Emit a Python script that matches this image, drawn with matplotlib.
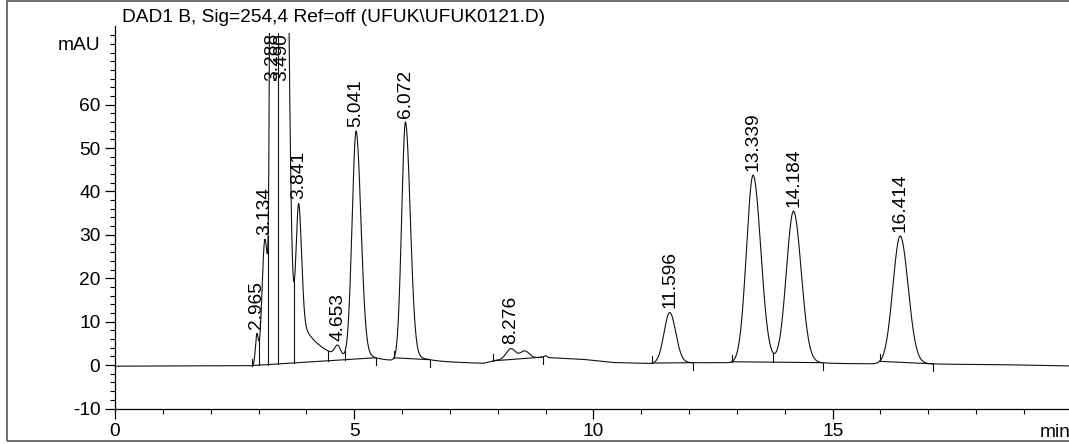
import numpy as np
import matplotlib
matplotlib.use("Agg")
import matplotlib.pyplot as plt
from matplotlib.patches import Rectangle
from matplotlib.ticker import MultipleLocator, FixedLocator

plt.rcParams['font.family'] = ['Liberation Sans', 'DejaVu Sans']
plt.rcParams['axes.unicode_minus'] = False
FS = 13.8

title = "DAD1 B, Sig=254,4 Ref=off (UFUK\\UFUK0121.D)"

# Peak table: retention time (min), height (mAU), left/right widths, tailing
peak_rt     = [2.965, 3.134, 3.288, 3.490, 3.841, 4.653, 5.041, 6.072, 8.276, 8.560, 9.000, 11.596, 13.339, 14.184, 16.414]
peak_height = [6.8, 29.0, 350.0, 231.0, 36.5, 2.3, 52.5, 55.0, 2.5, 1.8, 0.4, 11.7, 43.3, 35.0, 29.5]
peak_sig_l  = [0.030, 0.060, 0.033, 0.060, 0.060, 0.060, 0.085, 0.080, 0.100, 0.095, 0.030, 0.120, 0.140, 0.150, 0.155]
peak_sig_r  = [0.030, 0.075, 0.050, 0.100, 0.060, 0.060, 0.100, 0.100, 0.095, 0.095, 0.030, 0.125, 0.160, 0.160, 0.165]
peak_tail   = [0.0, 0.0, 0.0, 0.0, 0.30, 0.0, 0.08, 0.06, 0.0, 0.0, 0.0, 0.04, 0.05, 0.05, 0.04]
peak_tau    = [0.1, 0.1, 0.1, 0.1, 0.45, 0.1, 0.20, 0.20, 0.1, 0.1, 0.1, 0.25, 0.25, 0.25, 0.25]

# Retention times printed above peaks
label_rt = ["2.965", "3.134", "3.288", "3.490", "3.841", "4.653", "5.041", "6.072",
            "8.276", "11.596", "13.339", "14.184", "16.414"]
offscale_labels = ["3.288", "3.490"]

# Detector baseline drift
base_t = [0.0, 2.8, 3.5, 5.5, 6.5, 7.0, 7.7, 7.95, 8.5, 8.9, 9.3, 9.8, 10.4, 11.2, 12.5, 15.0, 17.2, 18.5, 20.0]
base_v = [-0.25, -0.15, 0.1, 0.85, 1.0, 0.7, 0.4, 1.1, 1.4, 1.8, 1.6, 1.3, 0.6, 0.35, 0.55, 0.35, 0.2, 0.1, -0.2]

# Integration events (min)
seg_start = [2.86, 5.83, 7.91, 11.23, 12.89, 15.98]
seg_end   = [5.45, 6.58, 8.94, 12.09, 14.79, 17.09]
drop_t    = [3.02, 3.20, 3.40, 3.74, 4.45, 4.81, 13.76]

XMIN, XMAX = 0.0, 19.94
YMIN, YMAX = -10.0, 78.0
YCLIP = 76.5   # signal is cut off above this level


def peak_shape(t, rt, h, sl, sr, a, tau):
    d = t - rt
    left = np.exp(-d**2 / (2 * sl**2))
    right = (1 - a) * np.exp(-d**2 / (2 * sr**2)) + a * np.exp(-np.clip(d, 0, None) / tau)
    return h * np.where(d < 0, left, right)


t = np.linspace(0, 20, 8001)
signal = np.interp(t, base_t, base_v)
for p in zip(peak_rt, peak_height, peak_sig_l, peak_sig_r, peak_tail, peak_tau):
    signal = signal + peak_shape(t, *p)


def sig_at(x):
    return float(np.interp(x, t, signal))


fig = plt.figure(figsize=(10.69, 4.44), dpi=100)
ax = fig.add_axes([115 / 1069, 35.5 / 444, 1 - 115 / 1069, (408.5 - 26.5) / 444])
ax.set_xlim(XMIN, XMAX)
ax.set_ylim(YMIN, YMAX)

clip = Rectangle((XMIN, YMIN), XMAX - XMIN, YCLIP - YMIN, transform=ax.transData,
                 fill=False, visible=False)
ax.add_patch(clip)

lc = '#111111'
lines = []
lines += ax.plot(t, signal, color=lc, lw=0.8)

# integration baselines, start/end marks and drop lines
tick_len = 1.6
for s, e in zip(seg_start, seg_end):
    ys, ye = sig_at(s), sig_at(e)
    lines += ax.plot([s, e], [ys, ye], color=lc, lw=0.8)
    lines += ax.plot([s, s], [ys, ys + tick_len], color=lc, lw=0.8)
    lines += ax.plot([e, e], [ye, ye - tick_len], color=lc, lw=0.8)
for d in drop_t:
    for s, e in zip(seg_start, seg_end):
        if s <= d <= e:
            yb = np.interp(d, [s, e], [sig_at(s), sig_at(e)])
            lines += ax.plot([d, d], [yb, sig_at(d)], color=lc, lw=0.8)
for ln in lines:
    ln.set_clip_path(clip)

# retention time labels
for lab in label_rt:
    x = float(lab)
    if lab in offscale_labels:
        ax.text(x, YCLIP, lab, rotation=90, ha='center', va='top', fontsize=FS,
                color='black', clip_on=False)
    else:
        apex = sig_at(x)
        ax.annotate(lab, (x, apex), xytext=(0, 3), textcoords='offset points',
                    rotation=90, ha='center', va='bottom', fontsize=FS, color='black')

# axes styling
for side in ('top', 'right'):
    ax.spines[side].set_visible(False)
for side in ('left', 'bottom'):
    ax.spines[side].set_linewidth(0.9)
    ax.spines[side].set_color('black')
ax.xaxis.set_major_locator(FixedLocator([0, 5, 10, 15]))
ax.xaxis.set_minor_locator(MultipleLocator(1))
ax.yaxis.set_major_locator(FixedLocator([-10, 0, 10, 20, 30, 40, 50, 60]))
ax.yaxis.set_minor_locator(FixedLocator(np.arange(-10, 77, 2)))
ax.tick_params(axis='both', which='major', length=7, width=0.9, pad=3.6, labelsize=FS, direction='out')
ax.tick_params(axis='both', which='minor', length=3.5, width=0.8, direction='out')
ax.patch.set_visible(False)

fig.text(1071 / 1069, 1 - 437 / 444, "min", ha='right', va='baseline', fontsize=FS)
fig.text(100 / 1069, 1 - 50 / 444, "mAU", ha='right', va='baseline', fontsize=FS)
fig.text(122 / 1069, 1 - 22 / 444, title, ha='left', va='baseline', fontsize=FS)

fig.add_artist(Rectangle((7 / 1069, 3 / 444), 1.2, 1 - 4.5 / 444, transform=fig.transFigure,
                         fill=False, lw=1.2, ec='#555555'))

fig.savefig("out.png", dpi=100)
